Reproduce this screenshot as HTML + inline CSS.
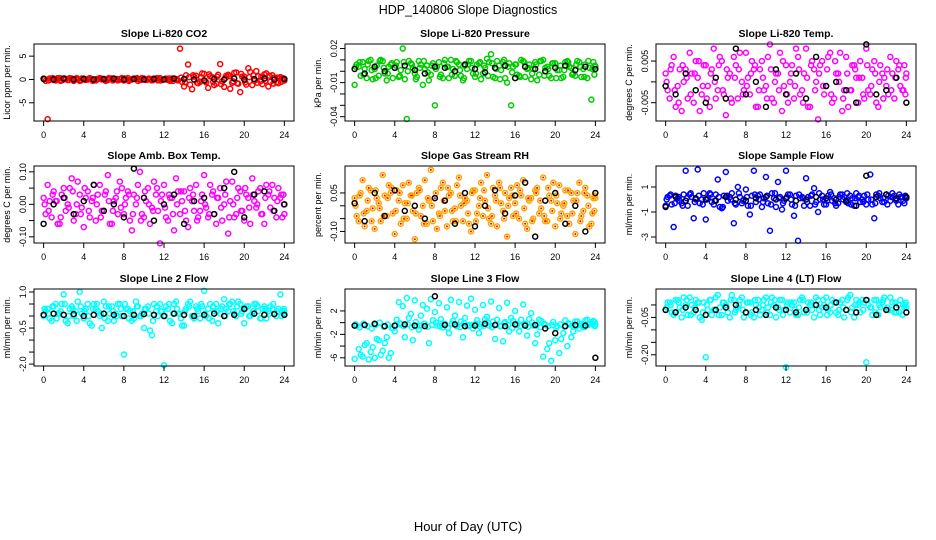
<!DOCTYPE html>
<html><head><meta charset="utf-8"><style>
body{margin:0;background:#fff;}
svg{display:block;font-family:"Liberation Sans",sans-serif;}
</style></head><body>
<svg id="chart" width="936" height="540" viewBox="0 0 936 540" xmlns="http://www.w3.org/2000/svg">
<rect width="936" height="540" fill="#fff"/>
<text x="468" y="14" text-anchor="middle" font-size="12.5">HDP_140806  Slope Diagnostics</text>
<text x="468" y="531" text-anchor="middle" font-size="13">Hour of Day (UTC)</text>
</svg>
<script>
const hours=[0,0.4,0.8,1.2,1.6,2,2.4,2.8,3.2,3.6,4,4.4,4.8,5.2,5.6,6,6.4,6.8,7.2,7.6,8,8.4,8.8,9.2,9.6,10,10.4,10.8,11.2,11.6,12,12.4,12.8,13.2,13.6,14,14.4,14.8,15.2,15.6,16,16.4,16.8,17.2,17.6,18,18.4,18.8,19.2,19.6,20,20.4,20.8,21.2,21.6,22,22.4,22.8,23.2,23.6,24];
const hours2=[0.2,0.6,1,1.4,1.8,2.2,2.6,3,3.4,3.8,4.2,4.6,5,5.4,5.8,6.2,6.6,7,7.4,7.8,8.2,8.6,9,9.4,9.8,10.2,10.6,11,11.4,11.8,12.2,12.6,13,13.4,13.8,14.2,14.6,15,15.4,15.8,16.2,16.6,17,17.4,17.8,18.2,18.6,19,19.4,19.8,20.2,20.6,21,21.4,21.8,22.2,22.6,23,23.4,23.8,23.9];
const hours3=[0.1,0.5,0.9,1.3,1.7,2.1,2.5,2.9,3.3,3.7,4.1,4.5,4.9,5.3,5.7,6.1,6.5,6.9,7.3,7.7,8.1,8.5,8.9,9.3,9.7,10.1,10.5,10.9,11.3,11.7,12.1,12.5,12.9,13.3,13.7,14.1,14.5,14.9,15.3,15.7,16.1,16.5,16.9,17.3,17.7,18.1,18.5,18.9,19.3,19.7,20.1,20.5,20.9,21.3,21.7,22.1,22.5,22.9,23.3,23.7,23.95];
const blackHours=[0,1,2,3,4,5,6,7,8,9,10,11,12,13,14,15,16,17,18,19,20,21,22,23,24];
const xTicks=[0,4,8,12,16,20,24];

const co2A=[0.2,-8.5,0.1,-0.2,0.3,0,-0.1,0.2,0.1,-0.3,0.2,0,0.1,-0.2,0.3,0.1,-0.1,0.2,0,0.1,-0.2,0.3,0,0.1,-0.1,0.2,0,-0.2,0.1,0.3,0,-0.1,0.2,0.1,6.6,-1.5,3.2,-2.1,0.8,-0.5,1.2,-1.8,0.5,-0.9,3.3,-1.6,1.0,-0.7,1.5,-2.7,0.6,2.4,-1.2,1.8,-0.4,1.1,-1.5,0.9,-0.6,0.5,-0.2];
const co2B=[-0.3,0.2,-0.1,0.3,-0.2,0.1,0.3,-0.3,0,0.2,-0.1,0.3,-0.2,0.1,0,-0.3,0.2,0.1,-0.2,0.3,0.1,-0.1,0.2,-0.3,0.3,-0.1,0.1,0.2,-0.2,0,0.2,-0.3,0.1,-0.2,-0.5,0.9,-1.1,0.6,-0.8,1.3,-0.6,0.7,-1.2,1.0,-0.4,0.8,-2.0,1.4,-0.9,0.6,-1.1,1.6,-0.3,0.7,-1.0,1.3,-0.5,0.4,-0.8,0.3,0.1];
const co2C=[0.1,-0.2,0.3,0,-0.3,0.2,-0.1,0.1,0.3,-0.2,0,0.2,-0.3,0.1,0.2,-0.1,0.3,-0.2,0.1,0,0.2,-0.3,0.1,0.3,-0.1,0,0.2,-0.1,0.3,-0.2,0.1,0.2,-0.3,0,0.4,-0.6,0.5,0.9,-0.7,0.4,-0.3,1.1,-0.5,0.6,-1.0,0.3,0.7,-0.4,-0.8,1.2,-0.6,0.5,0.9,-0.7,0.6,-0.3,0.8,-0.9,0.4,-0.5,0.2];
const co2K=[0.1,0,0.2,0,0.1,0,0.1,0.2,0,0.1,0,0.1,0,0.2,0.1,0,-0.2,0.1,0,0.2,0,0.1,0.2,0,0.1];

const presA=[-0.012,0.004,0.008,-0.006,0.01,0.002,-0.004,0.009,-0.008,0.006,0.003,-0.005,0.02,-0.042,0.007,-0.002,0.009,-0.012,0.005,-0.003,-0.03,0.008,-0.006,0.004,0.01,-0.004,0.006,-0.008,0.002,0.009,-0.005,0.007,-0.002,0.011,0.015,-0.006,0.005,0.008,-0.01,-0.03,0.006,-0.004,0.009,0.002,-0.007,0.008,-0.003,0.01,0.004,-0.006,0.007,0.001,-0.005,0.009,0.003,-0.004,0.008,0.002,-0.006,-0.025,0.004];
const presB=[0.006,-0.004,0.002,0.009,-0.007,0.005,0.01,-0.002,0.004,-0.006,0.008,0.001,-0.007,0.009,0.003,-0.005,0.006,0.002,-0.008,0.007,0.004,-0.003,0.01,-0.006,0.002,0.008,-0.004,0.005,0.009,-0.002,0.006,-0.007,0.003,0.008,-0.005,0.009,0.001,-0.006,0.007,0.004,-0.003,0.01,-0.005,0.006,0.002,-0.008,0.009,0.003,-0.004,0.007,0.001,-0.006,0.008,0.004,-0.002,0.009,-0.005,0.006,0.003,0.008,-0.003];
const presC=[0.004,0.008,-0.003,0.006,0.001,-0.006,0.009,0.003,-0.002,0.007,0.005,-0.004,0.008,0.0,0.006,-0.007,0.003,0.009,-0.001,0.005,0.002,-0.005,0.007,0.004,-0.003,0.009,0.001,-0.006,0.006,0.003,-0.002,0.008,0.005,-0.004,0.007,0.002,-0.007,0.01,0.004,-0.001,0.006,-0.005,0.008,0.003,-0.002,0.006,0.009,-0.004,0.002,0.007,-0.006,0.005,0.001,0.008,-0.003,0.006,0.004,-0.005,0.009,0.002,0.005];
const presK=[0.002,-0.002,0.004,0,0.003,0.005,0.001,-0.002,0.004,0.003,0,0.006,0.002,-0.001,0.003,0.005,-0.006,0.004,0.002,0,0.003,0.005,0.001,0.004,0.002];

const tempA=[0.002,-0.004,0.006,-0.001,-0.007,0.003,0.007,-0.005,0.001,-0.003,0.004,-0.006,0.008,-0.002,0.005,-0.008,0.002,0.006,-0.004,0.0,0.007,-0.003,0.003,-0.006,0.005,-0.001,0.009,-0.005,0.002,-0.007,0.004,0.0,-0.004,0.006,-0.002,0.008,-0.006,0.003,-0.009,0.005,-0.001,0.007,-0.004,0.002,-0.007,0.006,-0.002,0.004,-0.005,0.001,0.008,-0.003,0.005,-0.006,0.002,-0.001,0.006,-0.004,0.003,-0.002,0.002];
const tempB=[-0.002,0.004,-0.006,0.003,0.0,-0.004,0.002,0.005,-0.007,0.004,-0.001,0.003,-0.004,0.006,-0.003,0.001,-0.005,0.004,0.007,-0.002,0.001,0.005,-0.006,0.003,-0.002,0.006,-0.004,0.002,0.007,-0.001,-0.005,0.004,0.008,-0.003,0.002,-0.006,0.005,0.0,0.004,-0.003,0.006,-0.005,0.002,0.007,-0.002,-0.006,0.004,0.001,0.005,-0.004,-0.002,0.003,-0.005,0.004,0.001,-0.003,0.002,0.005,-0.001,0.004,-0.003];
const tempC=[0.0,0.003,-0.002,-0.005,0.004,0.001,-0.003,0.002,0.005,-0.001,-0.004,0.002,0.0,0.004,-0.002,0.003,-0.004,0.001,0.003,-0.003,-0.001,0.002,0.004,-0.002,0.001,-0.004,0.003,0.0,-0.002,0.005,-0.003,0.002,-0.001,0.003,-0.005,0.001,0.004,-0.002,0.002,-0.001,0.003,-0.003,0.005,0.0,-0.004,0.002,-0.002,0.003,0.001,-0.003,0.004,-0.001,0.002,0.0,-0.004,0.003,-0.002,0.001,0.004,-0.002,0.001];
const tempK=[-0.001,-0.003,0.002,-0.002,-0.005,0.001,-0.004,0.008,-0.003,0.0,-0.006,0.003,-0.003,0.002,-0.004,0.006,-0.001,0.0,-0.002,-0.005,0.009,-0.003,-0.002,0.001,-0.005];

const boxA=[0.02,0.06,-0.04,0.01,-0.06,0.05,0.0,0.08,-0.03,0.03,-0.07,0.04,0.01,-0.05,0.06,-0.02,0.09,-0.06,0.02,0.07,-0.03,0.04,-0.08,0.0,0.1,-0.04,0.05,-0.01,0.03,-0.12,0.06,-0.05,0.02,0.08,-0.03,0.04,-0.07,0.01,0.06,-0.02,0.09,-0.04,0.03,-0.06,0.05,0.0,-0.09,0.07,-0.03,0.04,-0.05,0.02,0.08,-0.01,0.05,-0.06,0.03,0.06,-0.04,0.02,-0.03];
const boxB=[-0.03,0.01,0.04,-0.06,0.03,-0.02,0.05,-0.05,0.07,-0.01,0.02,-0.04,0.06,0.03,-0.02,0.04,-0.06,0.01,-0.03,0.05,0.02,-0.05,0.03,0.06,-0.03,0.01,-0.06,0.07,-0.02,0.03,-0.04,0.02,-0.08,0.04,0.01,-0.05,0.05,-0.02,-0.04,0.03,-0.01,0.06,-0.03,0.02,-0.05,0.07,0.01,-0.04,0.05,-0.02,0.03,-0.06,0.01,0.04,-0.03,0.06,-0.01,0.02,0.05,-0.04,0.03];
const boxC=[0.0,-0.02,0.03,0.01,-0.04,0.02,-0.01,0.04,0.0,-0.03,0.05,-0.02,0.02,0.0,-0.04,0.03,0.01,-0.02,0.04,-0.01,0.0,0.03,-0.03,0.02,-0.05,0.04,0.0,-0.02,0.05,0.01,-0.01,0.03,-0.03,0.0,0.04,-0.02,0.02,0.03,-0.05,0.01,0.0,-0.03,0.04,0.02,-0.01,0.03,-0.04,0.0,0.02,-0.02,0.05,-0.01,0.03,0.0,-0.03,0.02,0.04,-0.02,0.01,0.03,0.0];
const boxK=[-0.06,0.0,0.02,-0.03,0.01,0.06,-0.02,0.0,-0.04,0.11,0.02,-0.05,0.0,0.03,-0.06,0.01,0.02,-0.03,0.05,0.1,-0.04,0.03,0.04,-0.02,0.0];

const rhA=[0.03,-0.06,0.1,-0.02,0.06,-0.09,0.01,0.12,-0.04,0.05,-0.11,0.02,0.08,-0.05,0.04,-0.13,0.07,0.0,-0.07,0.14,0.03,-0.03,0.09,-0.08,0.05,-0.01,0.11,-0.06,0.02,-0.1,0.06,0.0,-0.04,0.12,-0.07,0.04,0.09,-0.02,-0.12,0.07,0.01,-0.05,0.1,-0.09,0.03,0.06,-0.03,0.11,-0.06,0.02,-0.08,0.08,0.0,-0.04,0.05,-0.11,0.09,-0.02,0.04,-0.07,0.03];
const rhB=[-0.04,0.05,-0.08,0.07,-0.01,0.03,-0.06,0.04,0.08,-0.03,0.06,-0.07,0.01,0.09,-0.02,0.05,-0.04,0.1,0.02,-0.06,-0.09,0.07,-0.02,0.04,-0.06,0.08,0.0,0.03,-0.07,0.06,-0.03,0.09,0.02,-0.05,0.07,-0.08,0.01,0.05,0.03,-0.04,0.08,0.04,-0.07,0.02,-0.05,0.07,-0.01,-0.06,0.04,0.09,0.01,-0.03,0.06,-0.07,0.02,0.05,-0.04,0.07,-0.08,0.03,-0.02];
const rhC=[0.0,0.04,-0.03,0.02,-0.06,0.06,-0.01,-0.04,0.03,0.07,-0.02,0.05,-0.05,0.01,0.04,-0.03,0.06,-0.07,0.03,0.0,0.05,-0.04,0.02,0.07,-0.02,-0.06,0.04,0.01,-0.03,0.05,-0.06,0.03,0.06,-0.01,-0.04,0.02,0.07,-0.05,0.0,0.04,-0.03,0.06,-0.01,0.03,-0.06,0.05,0.02,-0.04,0.07,-0.02,0.04,-0.05,0.01,0.06,-0.03,0.02,-0.06,0.05,0.0,-0.03,0.04];
const rhK=[0.01,-0.06,0.05,-0.04,0.06,-0.02,0.0,-0.05,0.03,0.02,-0.07,0.05,-0.08,0.0,0.06,-0.03,0.04,0.09,-0.12,0.02,0.05,-0.07,0.0,-0.1,0.05];

const sfA=[-0.5,0.3,-2.2,0.1,-0.3,2.3,0.4,-1.5,2.4,0.0,-1.6,0.5,-0.4,1.6,-0.7,2.2,0.2,-1.9,1.0,-0.3,0.8,-1.2,2.3,0.3,-0.6,1.8,-2.5,0.1,1.4,-0.8,2.3,0.4,-1.3,-3.3,0.2,1.7,-0.5,0.9,-1.0,0.3,-0.4,0.6,0.1,-0.3,0.4,-0.2,0.3,-0.5,0.2,0.0,-0.4,2.0,-1.5,0.3,-0.2,0.4,-0.1,0.3,-0.4,0.2,0.1];
const sfB=[0.2,-0.4,0.3,-0.1,0.4,-0.5,0.2,0.0,-0.3,0.5,0.1,-0.2,0.4,-0.6,0.3,-0.1,0.5,-0.4,0.2,0.0,-0.5,0.3,-0.2,0.4,0.1,-0.3,0.5,-0.6,0.2,-0.1,0.4,-0.4,0.3,0.1,-0.5,0.2,0.4,-0.2,0.0,-0.4,0.3,-0.1,-0.5,0.4,0.2,-0.3,0.1,0.5,-0.2,0.3,0.0,-0.4,0.4,0.1,-0.2,0.3,0.5,-0.1,0.2,-0.3,0.3];
const sfC=[0.0,0.4,-0.3,0.2,-0.5,0.1,0.5,-0.2,0.3,-0.4,0.0,0.4,-0.1,0.2,-0.6,0.3,0.0,-0.3,0.5,-0.1,0.2,-0.5,0.4,0.0,-0.2,0.3,-0.4,0.5,0.1,-0.3,0.2,0.0,-0.5,0.4,0.1,-0.2,0.3,-0.4,0.5,0.0,-0.1,0.4,-0.3,0.2,0.0,0.5,-0.4,0.1,0.3,-0.2,0.4,0.0,-0.3,0.5,0.1,-0.4,0.2,0.0,0.4,-0.1,0.2];
const sfK=[-0.6,0.2,-0.1,0.1,0.0,-0.1,0.2,0.0,-0.1,0.1,0.2,0.0,0.1,-0.1,0.0,0.2,0.1,0.0,-0.1,-0.5,1.9,0.2,0.4,0.1,0.2];

const l2A=[0.0,0.3,-0.2,0.5,0.1,0.9,-0.3,0.4,0.2,1.0,-0.1,0.5,-0.4,0.3,0.0,0.6,-0.2,0.4,0.1,0.5,-1.6,0.3,-0.2,0.6,0.0,-0.5,0.4,-0.8,0.2,0.5,-2.05,0.3,-0.3,0.6,0.1,-0.4,0.5,0.0,0.4,-0.1,1.05,0.3,-0.2,0.5,0.1,0.7,0.2,0.6,0.0,0.5,-0.3,0.4,0.1,0.5,-0.1,0.4,0.2,0.3,0.0,0.9,0.2];
const l2B=[0.2,-0.1,0.4,0.1,0.5,-0.2,0.3,0.0,0.6,0.1,0.3,-0.3,0.5,0.2,-0.5,0.4,0.1,-0.2,0.5,0.0,0.3,0.2,-0.1,0.4,0.1,0.3,-0.6,0.5,0.0,0.2,0.4,-0.2,0.5,0.1,-0.4,0.3,0.6,-0.1,0.2,0.4,0.0,0.5,0.2,-0.3,0.4,0.3,0.5,0.1,0.6,0.2,0.4,0.0,0.5,0.2,0.3,-0.1,0.4,0.1,0.3,0.2,0.1];
const l2C=[0.3,0.1,0.4,-0.1,0.2,0.5,0.0,0.3,-0.2,0.4,0.2,0.0,0.3,0.5,0.1,-0.1,0.4,0.2,0.0,0.3,0.5,-0.1,0.2,0.4,0.0,0.3,0.1,-0.2,0.4,0.2,0.0,0.5,0.1,0.3,-0.1,0.2,0.4,0.0,0.3,0.5,0.1,-0.1,0.4,0.2,0.3,0.0,0.5,0.2,0.4,0.1,0.3,0.0,0.2,0.4,-0.1,0.3,0.1,0.5,0.2,0.0,0.3];
const l2K=[0.05,0.1,0.05,0.08,0.0,0.05,0.1,0.05,0.0,0.05,0.08,0.05,0.0,0.1,0.05,0.0,0.05,0.1,0.0,0.05,0.3,0.1,0.05,0.08,0.05];

const l3A=[-6.2,-4.5,-5.8,-3.5,-5.0,-6.0,-3.0,-4.8,-2.5,-5.2,-1.5,3.5,2.8,4.2,1.5,3.8,-1.2,3.0,2.4,4.0,1.8,3.3,-0.8,2.6,3.9,1.2,3.5,-2.5,2.9,4.1,2.2,-1.8,3.0,1.0,3.6,-2.8,2.5,-3.2,3.4,0.8,2.0,-1.5,3.1,-2.2,1.6,-3.5,0.5,-5.8,-4.5,-6.5,-3.0,-5.2,-1.8,-4.0,-2.5,0.2,-1.0,-0.5,0.5,0.0,-0.3];
const l3B=[-0.5,-5.5,-3.8,-6.3,-4.2,-2.8,-5.5,-3.5,-6.0,-1.0,0.5,-0.3,-2.5,0.8,-3.0,-0.6,1.2,-0.2,-3.5,0.4,-0.5,0.6,-0.2,-1.8,0.3,-0.6,0.2,0.8,-0.4,-1.0,0.4,-0.3,0.6,-0.5,0.2,0.5,-0.6,0.1,-1.5,0.3,-0.4,0.5,-0.2,0.6,-0.5,-2.0,0.3,-0.4,-3.5,0.1,-0.6,-2.8,0.4,-0.3,-1.5,0.2,-0.5,0.4,-0.2,0.3,0.1];
const l3C=[-0.3,-0.8,-0.2,-0.6,-1.0,-0.4,0.0,-0.7,-0.3,-0.9,-0.5,-0.1,-0.6,-0.3,-0.8,0.1,-0.5,-0.2,-0.7,-0.4,0.0,-0.6,-0.3,-0.9,-0.2,-0.5,-0.8,-0.1,-0.6,-0.4,-0.2,-0.7,-0.5,0.0,-0.8,-0.3,-0.6,-0.1,-0.4,-0.9,-0.2,-0.6,-0.3,-0.7,0.0,-0.5,-0.8,-0.2,-0.6,-0.4,-0.9,-0.3,-0.7,-0.1,-0.5,-0.6,-0.2,-0.8,-0.4,-0.3,-0.6];
const l3K=[-0.5,-0.4,-0.2,-0.6,-0.5,-0.3,-0.5,-0.6,4.5,-0.4,-0.3,-0.6,-0.5,-0.2,-0.4,-0.6,-0.3,-0.5,-0.4,-1.0,-1.8,-0.6,-0.4,-0.5,-6.0];

const l4A=[-0.02,0.01,-0.04,0.02,-0.05,0.0,0.03,-0.03,0.01,-0.06,-0.21,0.02,-0.02,0.04,-0.04,0.0,-0.05,0.02,-0.01,0.03,-0.03,0.01,-0.05,0.02,-0.02,0.03,-0.04,0.0,-0.01,0.02,-0.25,-0.03,0.01,-0.04,0.03,-0.02,0.0,-0.05,0.02,-0.01,0.03,-0.03,0.01,-0.04,0.02,-0.02,0.04,-0.05,0.0,0.02,-0.23,-0.01,0.02,-0.04,0.01,-0.02,0.03,-0.03,0.0,-0.04,-0.01];
const l4B=[0.01,-0.03,0.02,-0.01,0.03,-0.04,0.0,0.02,-0.05,0.01,-0.02,-0.04,0.03,-0.01,0.01,-0.03,0.04,-0.02,0.02,-0.05,0.01,-0.03,0.0,-0.04,0.02,-0.01,0.03,-0.05,0.02,-0.02,0.01,0.0,-0.04,0.02,-0.03,0.01,-0.02,0.03,-0.04,0.0,-0.02,0.02,-0.03,0.01,-0.05,0.03,-0.01,0.02,-0.03,0.01,0.0,-0.04,0.02,-0.01,0.03,-0.02,0.01,-0.03,0.02,-0.01,0.0];
const l4C=[-0.01,0.0,-0.03,0.01,-0.02,0.02,-0.04,-0.01,0.01,-0.03,0.0,0.02,-0.02,-0.04,0.01,-0.01,0.02,-0.03,0.0,-0.02,0.01,-0.04,0.02,-0.01,0.0,-0.03,0.01,0.02,-0.02,-0.04,0.0,0.01,-0.02,-0.01,0.02,-0.03,0.01,0.0,-0.02,0.02,-0.04,0.0,0.01,-0.02,-0.01,0.02,-0.03,0.0,0.01,-0.02,0.02,-0.01,-0.03,0.0,0.02,-0.01,-0.02,0.01,-0.03,0.0,0.01];
const l4K=[-0.02,-0.03,-0.01,-0.02,-0.04,-0.02,-0.01,0.0,-0.03,-0.02,-0.04,-0.01,-0.02,-0.03,-0.02,0.0,-0.01,0.01,-0.02,-0.03,0.02,-0.04,-0.02,-0.01,-0.03];

const panels=[
 {name:'co2',title:'Slope Li-820 CO2',ylab:'Licor ppm per min.',col:0,row:0,dom:[-8.9,7.6],ticks:[-5,0,5],labs:['-5','0','5'],a:co2A,b:co2B,c:co2C,k:co2K,color:'#ff0000'},
 {name:'pressure',title:'Slope Li-820 Pressure',ylab:'kPa per min.',col:1,row:0,dom:[-0.0438,0.024],ticks:[0.02,0.01,0,-0.01,-0.02,-0.03,-0.04],labs:['0.02','','','-0.01','','','-0.04'],a:presA,b:presB,c:presC,k:presK,color:'#00cc00'},
 {name:'li820-temp',title:'Slope Li-820 Temp.',ylab:'degrees C per min.',col:2,row:0,dom:[-0.0094,0.0091],ticks:[0.005,0,-0.005],labs:['0.005','','-0.005'],a:tempA,b:tempB,c:tempC,k:tempK,color:'#ff00ff'},
 {name:'amb-box-temp',title:'Slope Amb. Box Temp.',ylab:'degrees C per min.',col:0,row:1,dom:[-0.119,0.118],ticks:[0.1,0.05,0,-0.05,-0.1],labs:['0.10','','0.00','','-0.10'],a:boxA,b:boxB,c:boxC,k:boxK,color:'#ff00ff'},
 {name:'gas-stream-rh',title:'Slope Gas Stream RH',ylab:'percent per min.',col:1,row:1,dom:[-0.145,0.155],ticks:[0.05,0,-0.05,-0.1],labs:['0.05','','','-0.10'],a:rhA,b:rhB,c:rhC,k:rhK,color:'#ffa500',dot:'#ff0000'},
 {name:'sample-flow',title:'Slope Sample Flow',ylab:'ml/min per min.',col:2,row:1,dom:[-3.48,2.68],ticks:[1,-1,-3],labs:['1','-1','-3'],a:sfA,b:sfB,c:sfC,k:sfK,color:'#0000ff'},
 {name:'line2-flow',title:'Slope Line 2 Flow',ylab:'ml/min per min.',col:0,row:2,dom:[-2.08,1.125],ticks:[1,0.5,0,-0.5,-1,-1.5,-2],labs:['1.0','','','-0.5','','','-2.0'],a:l2A,b:l2B,c:l2C,k:l2K,color:'#00ffff'},
 {name:'line3-flow',title:'Slope Line 3 Flow',ylab:'ml/min per min.',col:1,row:2,dom:[-7.4,5.74],ticks:[2,0,-2,-4,-6],labs:['2','','-2','','-6'],a:l3A,b:l3B,c:l3C,k:l3K,color:'#00ffff'},
 {name:'line4-flow',title:'Slope Line 4 (LT) Flow',ylab:'ml/min per min.',col:2,row:2,dom:[-0.245,0.064],ticks:[0,-0.05,-0.1,-0.15,-0.2],labs:['','-0.05','','','-0.20'],a:l4A,b:l4B,c:l4C,k:l4K,color:'#00ffff'}
];

const NS='http://www.w3.org/2000/svg';
const svg=document.getElementById('chart');
const colX=[34,345,656], rowY=[44,166,289], W=260, H=77;
function mk(tag,attrs,parent){const e=document.createElementNS(NS,tag);for(const k in attrs)e.setAttribute(k,attrs[k]);parent.appendChild(e);return e;}

panels.forEach(p=>{
  const x0=colX[p.col], y0=rowY[p.row];
  const xs=v=>x0+(v+0.96)/25.92*W;
  const ys=v=>y0+H-(v-p.dom[0])/(p.dom[1]-p.dom[0])*H;
  const g=mk('g',{},svg);
  
  
  const t=mk('text',{x:x0+W/2,y:y0-7,'text-anchor':'middle','font-size':'10.5','font-weight':'bold'},g);
  t.textContent=p.title;
  
  
  const yl=mk('text',{transform:`translate(${x0-24},${y0+H/2}) rotate(-90)`,'text-anchor':'middle','font-size':'9'},g);
  yl.textContent=p.ylab;
  
  
  const pts=mk('g',{fill:'none','stroke-width':'1.5'},g);
  
  
  const drawSet=(xsArr,vals,color,dot)=>{
    vals.forEach((v,i)=>{
      const cx=xs(xsArr[i]), cy=ys(v);
      const c=mk('circle',{cx:cx,cy:cy,r:2.5,stroke:color},pts);
      
      
      if(dot){const d=mk('circle',{cx:cx,cy:cy,r:1,fill:dot,stroke:'none'},pts);
        
        }
    });
  };
  drawSet(hours,p.a,p.color,p.dot);
  drawSet(hours2,p.b,p.color,p.dot);
  drawSet(hours3,p.c,p.color,p.dot);
  drawSet(blackHours,p.k,'#000');
  const fr=mk('rect',{x:x0,y:y0,width:W,height:H,fill:'none',stroke:'#000','stroke-width':'1'},g);
  
  
  xTicks.forEach(v=>{
    const x=xs(v);
    const l=mk('line',{x1:x,x2:x,y1:y0+H,y2:y0+H+5,stroke:'#000'},g);
    
    
    const tl=mk('text',{x:x,y:y0+H+17,'text-anchor':'middle','font-size':'9'},g);
    tl.textContent=v;
    
    
  });
  p.ticks.forEach((v,i)=>{
    const y=ys(v);
    const l=mk('line',{x1:x0-5,x2:x0,y1:y,y2:y,stroke:'#000'},g);
    
    
    if(p.labs[i]){
      const tl=mk('text',{transform:`translate(${x0-8},${y}) rotate(-90)`,'text-anchor':'middle','font-size':'9'},g);
      tl.textContent=p.labs[i];
      
      
    }
  });
});
</script>
</body></html>
